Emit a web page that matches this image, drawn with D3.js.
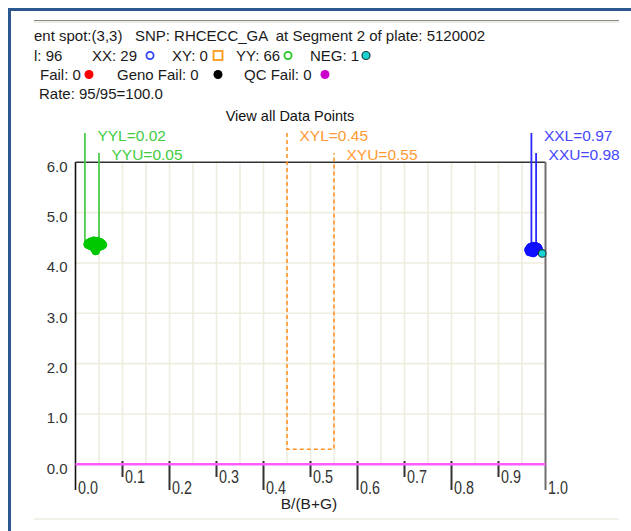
<!DOCTYPE html>
<html>
<head>
<meta charset="utf-8">
<script src="https://cdn.jsdelivr.net/npm/d3@7"></script>
<style>
  html, body { margin: 0; padding: 0; background: #fff; }
  svg { display: block; }
  text { font-family: Arial, "Liberation Sans", sans-serif; white-space: pre; }
</style>
</head>
<body>
<svg id="chart" width="631" height="531"></svg>
<script>
// ---- data ----
const headerText = "ent spot:(3,3)   SNP: RHCECC_GA  at Segment 2 of plate: 5120002";
const totalCount = 96;
const genotypeNames = ["XX", "XY", "YY", "NEG"];
const genotypeCounts = [29, 0, 66, 1];
const failNames = ["Fail", "Geno Fail", "QC Fail"];
const failCounts = [0, 0, 0];
const callRateText = "Rate: 95/95=100.0";
const chartTitle = "View all Data Points";
const xAxisTitle = "B/(B+G)";

const xTicks = [0.0, 0.1, 0.2, 0.3, 0.4, 0.5, 0.6, 0.7, 0.8, 0.9, 1.0];
const yTicks = [0.0, 1.0, 2.0, 3.0, 4.0, 5.0, 6.0];

const thresholdNames  = ["YYL", "YYU", "XYL", "XYU", "XXL", "XXU"];
const thresholdValues = [0.02, 0.05, 0.45, 0.55, 0.97, 0.98];
const xyFloor = 0.3;           // lower edge of the heterozygote window
const yyLineEnd = 4.38;        // where the YY boundary lines stop
const xxLineEnd = 4.27;        // where the XX boundary lines stop

// cluster points [B/(B+G), intensity]
const yyPoints = [
  [0.026,4.37],[0.029,4.40],[0.031,4.35],[0.033,4.42],[0.034,4.38],[0.036,4.33],[0.037,4.41],[0.038,4.36],[0.039,4.44],[0.040,4.39],
  [0.041,4.34],[0.042,4.42],[0.043,4.37],[0.044,4.40],[0.045,4.32],[0.046,4.38],[0.047,4.43],[0.048,4.35],[0.049,4.40],[0.050,4.37],
  [0.051,4.33],[0.052,4.41],[0.053,4.36],[0.054,4.39],[0.055,4.34],[0.056,4.38],[0.058,4.36],[0.030,4.38],[0.032,4.36],[0.035,4.40],
  [0.037,4.35],[0.039,4.38],[0.041,4.40],[0.043,4.33],[0.044,4.36],[0.046,4.41],[0.048,4.38],[0.050,4.34],[0.052,4.37],[0.054,4.35],
  [0.035,4.37],[0.038,4.39],[0.040,4.36],[0.042,4.38],[0.045,4.37],[0.047,4.35],[0.049,4.39],[0.051,4.38],[0.053,4.40],[0.028,4.36],
  [0.033,4.34],[0.036,4.38],[0.040,4.42],[0.044,4.34],[0.047,4.39],[0.050,4.41],[0.055,4.37],[0.043,4.24],[0.041,4.28],[0.045,4.29],
  [0.039,4.31],[0.046,4.32],[0.042,4.31],[0.038,4.33],[0.048,4.31],[0.031,4.39]
];
const xxPoints = [
  [0.964,4.26],[0.966,4.22],[0.967,4.30],[0.969,4.25],[0.970,4.32],[0.971,4.21],[0.972,4.28],[0.973,4.24],[0.974,4.31],[0.975,4.26],
  [0.976,4.22],[0.977,4.29],[0.978,4.33],[0.979,4.25],[0.980,4.30],[0.981,4.27],[0.982,4.31],[0.983,4.26],[0.984,4.29],[0.985,4.28],
  [0.968,4.28],[0.972,4.23],[0.975,4.33],[0.977,4.24],[0.979,4.28],[0.981,4.32],[0.983,4.30],[0.970,4.27],[0.974,4.20]
];
const negPoints = [[0.993, 4.19]];

// ---- drawing ----
const svg = d3.select("#chart");
const COL = { xx: "#2a2aff", xy: "#ff9426", yy: "#00c800", yyLine: "#4ccc4c",
              neg: "#19d3d3", frame: "#2d578f", grid: "#efedde", magenta: "#ff5cff" };

const x = d3.scaleLinear().domain([0, 1]).range([75.5, 545.5]);
const y = d3.scaleLinear().domain([0, 6]).range([464.3, 162.3]);

// outer window frame
svg.append("path").attr("d", "M9.5,531 V9.5 H631")
  .attr("fill", "none").attr("stroke", COL.frame).attr("stroke-width", 3);
// header separator and footer rule
svg.append("line").attr("x1", 34).attr("x2", 619).attr("y1", 20.5).attr("y2", 20.5)
  .attr("stroke", "#8a8a7e").attr("stroke-width", 1.2);
svg.append("line").attr("x1", 34).attr("x2", 619).attr("y1", 22).attr("y2", 22)
  .attr("stroke", "#dcdad0").attr("stroke-width", 1);
svg.append("line").attr("x1", 34).attr("x2", 619).attr("y1", 519).attr("y2", 519)
  .attr("stroke", "#f3f1e7").attr("stroke-width", 2);

// header text
const hdr = svg.append("g").attr("font-size", 15).attr("fill", "#1a1a1a");
hdr.append("text").attr("x", 34).attr("y", 41).text(headerText);
hdr.append("text").attr("x", 34).attr("y", 61).text("l: " + totalCount);

const g2x = [92, 172, 236, 310];
const g2sym = [150, 218, 288, 366];
genotypeNames.forEach((n, i) => {
  hdr.append("text").attr("x", g2x[i]).attr("y", 61).text(n + ": " + genotypeCounts[i]);
});
svg.append("circle").attr("cx", g2sym[0]).attr("cy", 55.5).attr("r", 3.6)
  .attr("fill", "none").attr("stroke", "#3344ff").attr("stroke-width", 1.8);
svg.append("rect").attr("x", g2sym[1] - 4.5).attr("y", 51).attr("width", 9).attr("height", 9)
  .attr("fill", "none").attr("stroke", "#ff9a1a").attr("stroke-width", 1.8);
svg.append("circle").attr("cx", g2sym[2]).attr("cy", 55.5).attr("r", 3.6)
  .attr("fill", "none").attr("stroke", "#22c822").attr("stroke-width", 1.8);
svg.append("circle").attr("cx", g2sym[3]).attr("cy", 55.5).attr("r", 4)
  .attr("fill", COL.neg).attr("stroke", "#1a3a3a").attr("stroke-width", 1.2);

const g3x = [40, 117, 244];
const g3dot = [89, 218, 325];
const g3col = ["#ff0000", "#000000", "#cc00cc"];
failNames.forEach((n, i) => {
  hdr.append("text").attr("x", g3x[i]).attr("y", 80).text(n + ": " + failCounts[i]);
  svg.append("circle").attr("cx", g3dot[i]).attr("cy", 74.5).attr("r", 4.5).attr("fill", g3col[i]);
});
hdr.append("text").attr("x", 39).attr("y", 99).text(callRateText);

// chart title
svg.append("text").attr("x", 290).attr("y", 121).attr("text-anchor", "middle")
  .attr("font-size", 14.5).attr("fill", "#111").text(chartTitle);

// grid
const vGrid = d3.range(1, 20).map(i => i * 0.05);
svg.append("g").selectAll("line").data(vGrid).join("line")
  .attr("x1", d => x(d)).attr("x2", d => x(d)).attr("y1", y(6)).attr("y2", y(0))
  .attr("stroke", COL.grid).attr("stroke-width", 1.6);
svg.append("g").selectAll("line").data(yTicks.filter(v => v > 0 && v < 6)).join("line")
  .attr("x1", x(0)).attr("x2", x(1)).attr("y1", d => y(d)).attr("y2", d => y(d))
  .attr("stroke", COL.grid).attr("stroke-width", 1.6);

// plot frame: top, left, right
svg.append("line").attr("x1", x(0)).attr("x2", x(1)).attr("y1", y(6)).attr("y2", y(6))
  .attr("stroke", "#333").attr("stroke-width", 1.6);
svg.append("line").attr("x1", x(0)).attr("x2", x(0)).attr("y1", y(6)).attr("y2", 490)
  .attr("stroke", "#111").attr("stroke-width", 1.6);
svg.append("line").attr("x1", x(1)).attr("x2", x(1)).attr("y1", y(6)).attr("y2", 490)
  .attr("stroke", "#6e6e6e").attr("stroke-width", 2);

// y axis labels
const yAxis = d3.axisLeft(y).tickValues(yTicks).tickFormat(d3.format(".1f")).tickSize(0).tickPadding(8);
const ya = svg.append("g").attr("transform", `translate(${x(0)},0)`).call(yAxis);
ya.select(".domain").remove();
ya.selectAll("text").attr("font-size", 15).attr("font-family", "Arial, 'Liberation Sans', sans-serif")
  .attr("fill", "#333").attr("dy", "0.6em");

// x axis: alternating tick lengths, labels to the right of each tick
const xa = svg.append("g");
xTicks.forEach((t, i) => {
  if (i === 0 || i === xTicks.length - 1) return;
  const long = i % 2 === 0;
  xa.append("line").attr("x1", x(t)).attr("x2", x(t)).attr("y1", 461).attr("y2", long ? 490 : 477)
    .attr("stroke", "#333").attr("stroke-width", 2);
});
xTicks.forEach((t, i) => {
  const long = i % 2 === 0;
  xa.append("text").attr("transform", `translate(${x(t) + 2.5},${long ? 494 : 483}) scale(0.82,1)`)
    .attr("font-size", 17.5).attr("fill", "#333").text(t.toFixed(1));
});
svg.append("text").attr("x", 309).attr("y", 509).attr("text-anchor", "middle")
  .attr("font-size", 15.5).attr("fill", "#222").text(xAxisTitle);

// baseline (magenta)
svg.append("line").attr("x1", x(0)).attr("x2", x(1)).attr("y1", y(0)).attr("y2", y(0))
  .attr("stroke", COL.magenta).attr("stroke-width", 2.6);

// thresholds
const thr = {};
thresholdNames.forEach((n, i) => thr[n] = thresholdValues[i]);
const topL = 133, topU = 153;

// heterozygote window (dashed)
const xyPath = d3.path();
xyPath.moveTo(x(thr.XYL), topL); xyPath.lineTo(x(thr.XYL), y(xyFloor));
xyPath.lineTo(x(thr.XYU), y(xyFloor)); xyPath.lineTo(x(thr.XYU), topU);
svg.append("path").attr("d", xyPath.toString()).attr("fill", "none")
  .attr("stroke", COL.xy).attr("stroke-width", 1.6).attr("stroke-dasharray", "4,3");

// homozygote boundaries
[["YYL", topL, yyLineEnd, COL.yyLine], ["YYU", topU, yyLineEnd, COL.yyLine],
 ["XXL", topL, xxLineEnd, COL.xx], ["XXU", topU, xxLineEnd, COL.xx]].forEach(([n, t, e, c]) => {
  svg.append("line").attr("x1", x(thr[n])).attr("x2", x(thr[n])).attr("y1", t).attr("y2", y(e))
    .attr("stroke", c).attr("stroke-width", 1.8);
});

// threshold labels
const labelColor = { YY: "#3fcc3f", XY: "#ff9a33", XX: "#4646ff" };
thresholdNames.forEach((n, i) => {
  const isL = n.endsWith("L");
  svg.append("text").attr("x", x(thresholdValues[i]) + 12.5).attr("y", isL ? 141 : 160)
    .attr("font-size", 15.5).attr("fill", labelColor[n.slice(0, 2)])
    .text(n + "=" + thresholdValues[i].toFixed(2));
});

// data points
svg.append("g").selectAll("circle").data(yyPoints).join("circle")
  .attr("cx", d => x(d[0])).attr("cy", d => y(d[1])).attr("r", 4)
  .attr("fill", COL.yy).attr("stroke", COL.yy).attr("stroke-width", 1);
svg.append("g").selectAll("circle").data(xxPoints).join("circle")
  .attr("cx", d => x(d[0])).attr("cy", d => y(d[1])).attr("r", 4)
  .attr("fill", "#1010ff").attr("stroke", "#1010ff").attr("stroke-width", 1);
svg.append("g").selectAll("circle").data(negPoints).join("circle")
  .attr("cx", d => x(d[0])).attr("cy", d => y(d[1])).attr("r", 3.8)
  .attr("fill", COL.neg).attr("stroke", "#1a3a3a").attr("stroke-width", 1.1);
</script>
</body>
</html>
